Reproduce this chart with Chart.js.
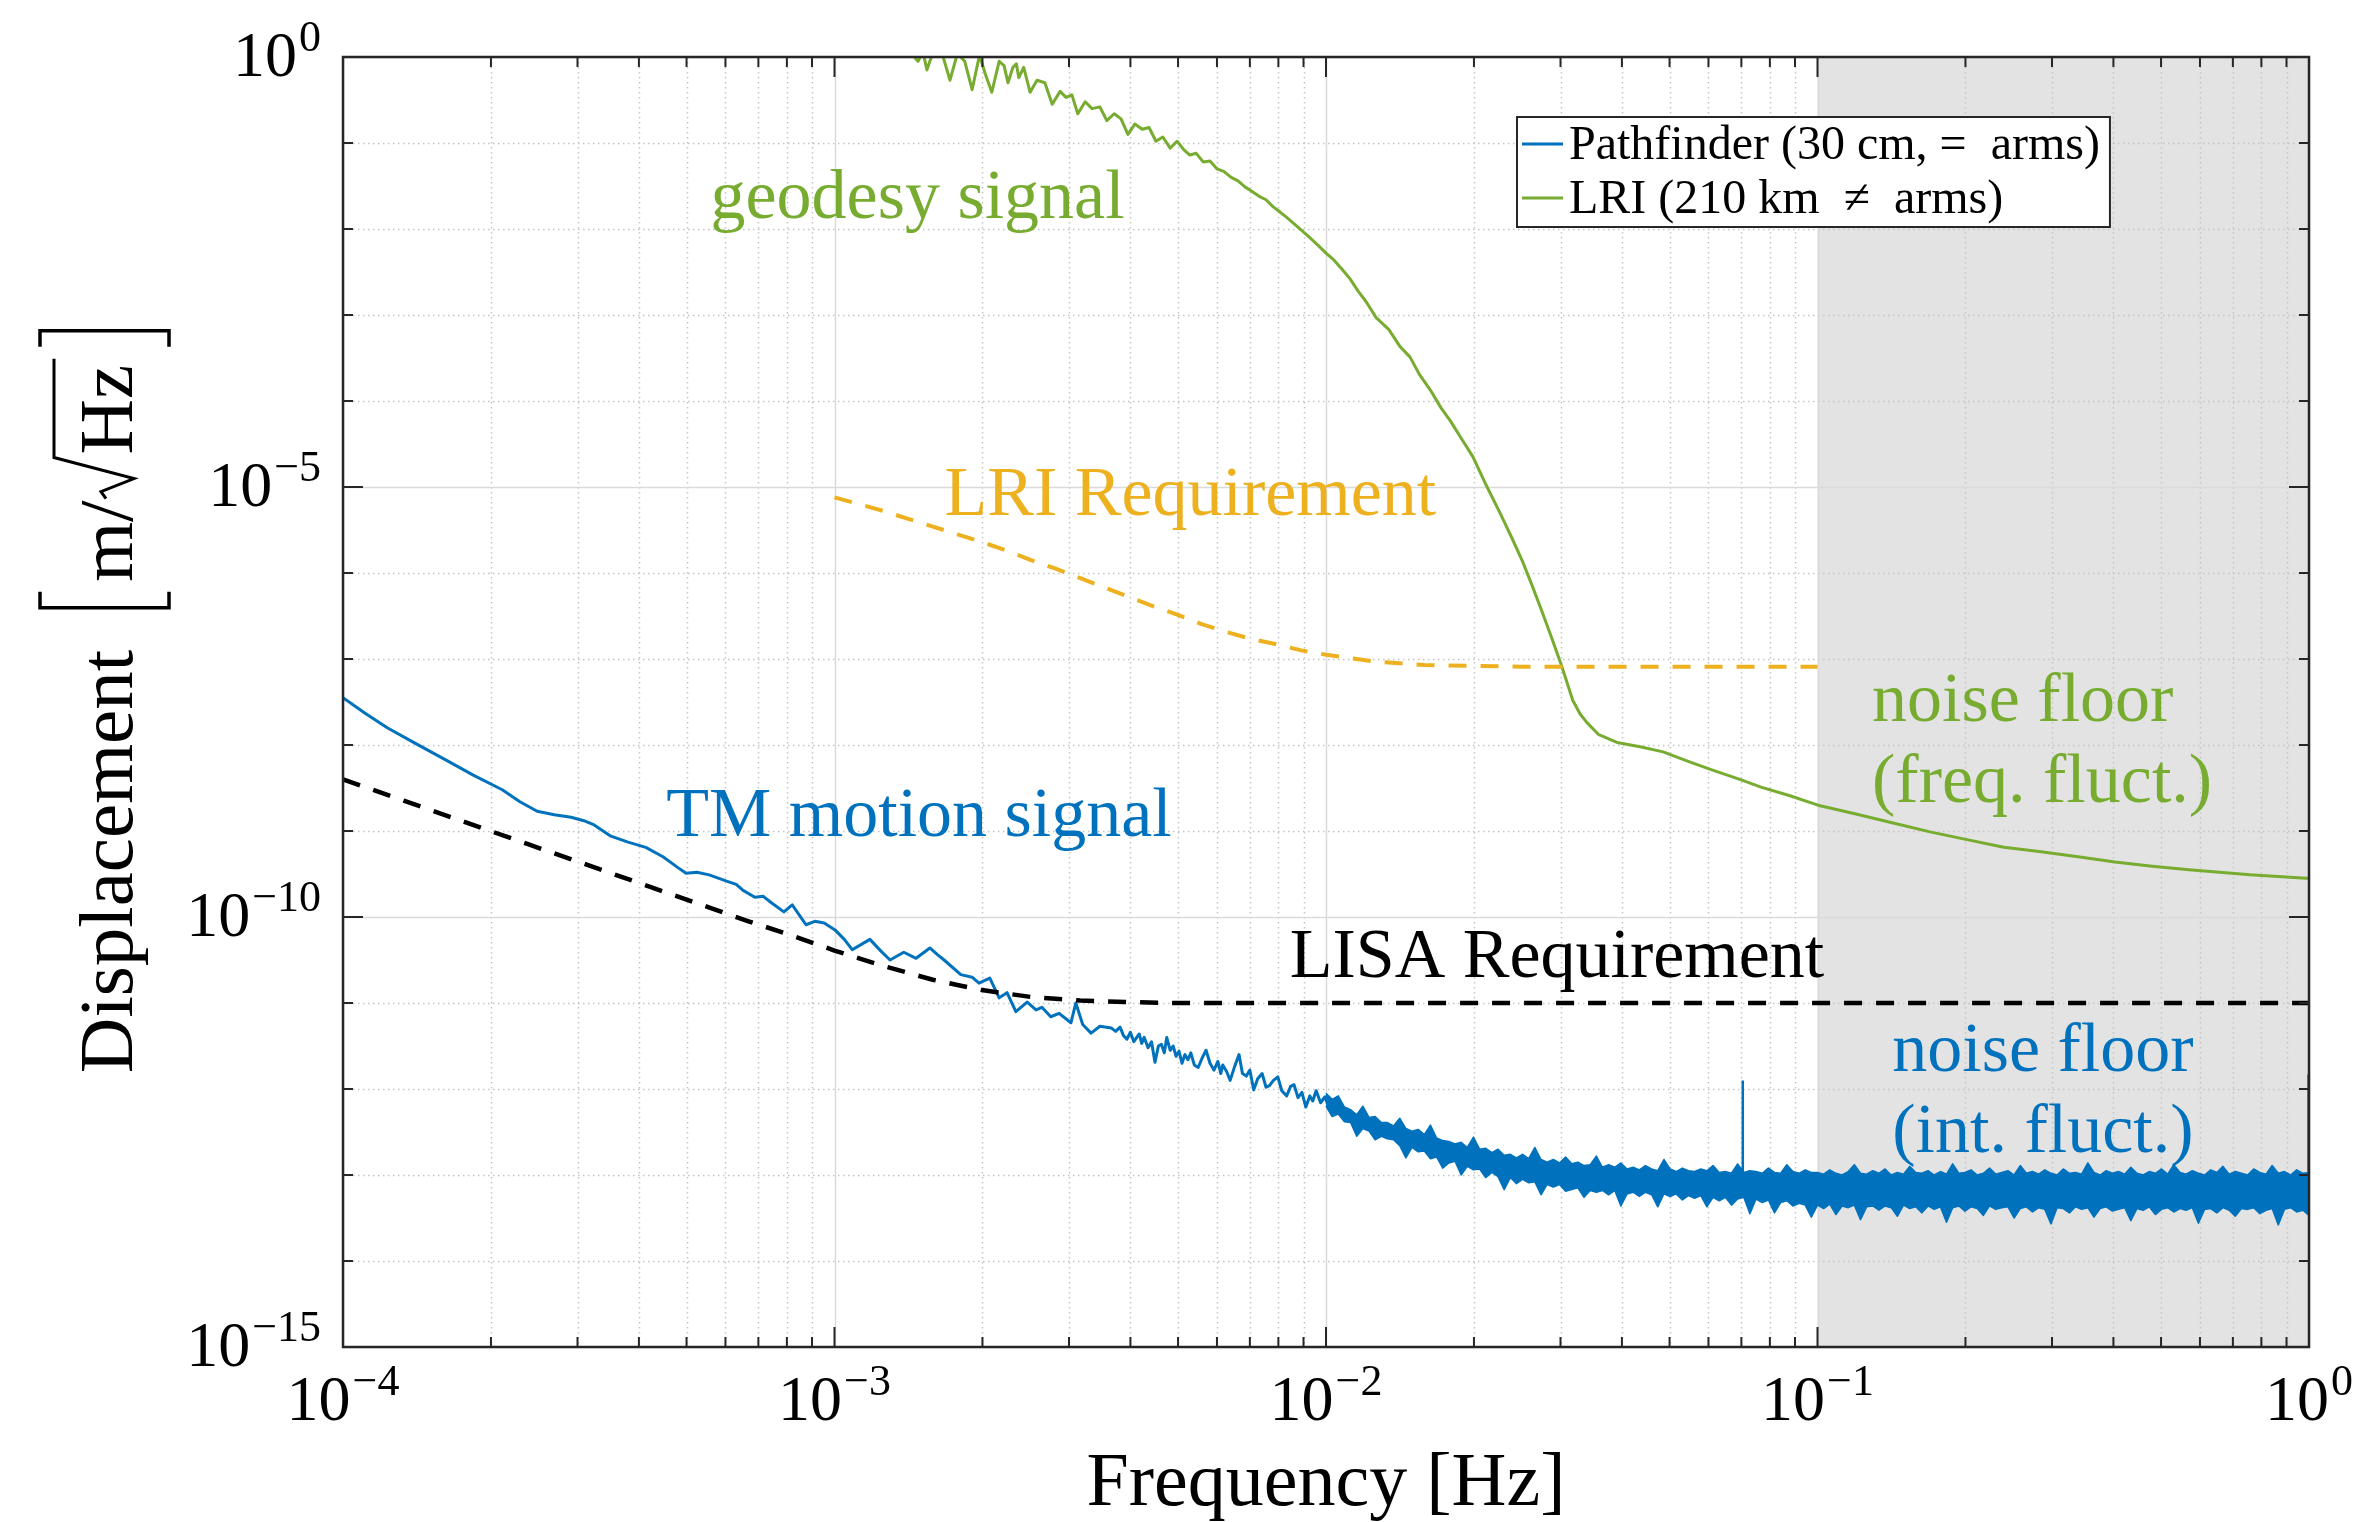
<!DOCTYPE html>
<html>
<head>
<meta charset="utf-8">
<title>Displacement spectra</title>
<script src="https://cdn.jsdelivr.net/npm/chart.js@4.4.1/dist/chart.umd.min.js"></script>
<style>
  html, body { margin: 0; padding: 0; background: #fff; }
  canvas { display: block; }
</style>
</head>
<body>
<canvas id="spectra" width="2357" height="1522"></canvas>
<script>
/* Displacement noise: LISA Pathfinder vs. GRACE-FO LRI.
   All curve data below is stored as log10(frequency / Hz) and log10(displacement / m/sqrt(Hz)). */

// ── Pathfinder test-mass signal (single trace up to ~10 mHz) ──
const pathfinderLogF = [
  -4.000, -3.955, -3.910, -3.850, -3.792, -3.735, -3.676, -3.640, -3.605, -3.570,
  -3.536, -3.510, -3.489, -3.455, -3.420, -3.384, -3.349, -3.320, -3.302, -3.280,
  -3.255, -3.221, -3.200, -3.186, -3.162, -3.145, -3.127, -3.103, -3.086, -3.058,
  -3.040, -3.021, -2.999, -2.980, -2.964, -2.928, -2.905, -2.887, -2.859, -2.834,
  -2.806, -2.790, -2.777, -2.743, -2.720, -2.706, -2.684, -2.665, -2.649, -2.631,
  -2.608, -2.590, -2.578, -2.560, -2.543, -2.519, -2.509, -2.495, -2.478, -2.460,
  -2.437, -2.428, -2.419, -2.412, -2.405, -2.398, -2.391, -2.385, -2.380, -2.375,
  -2.370, -2.362, -2.355, -2.348, -2.341, -2.335, -2.329, -2.324, -2.317, -2.311,
  -2.305, -2.299, -2.293, -2.287, -2.281, -2.275, -2.268, -2.260, -2.252, -2.244,
  -2.236, -2.228, -2.220, -2.214, -2.210, -2.202, -2.195, -2.186, -2.177, -2.170,
  -2.162, -2.155, -2.147, -2.139, -2.130, -2.122, -2.115, -2.107, -2.098, -2.090,
  -2.080, -2.072, -2.065, -2.057, -2.049, -2.041, -2.033, -2.027, -2.020, -2.011,
  -2.002, -1.994, -1.985, -1.978, -1.970
];
const pathfinderLogD = [
  -7.45, -7.63, -7.80, -7.99, -8.17, -8.35, -8.52, -8.66, -8.77, -8.81,
  -8.84, -8.88, -8.93, -9.06, -9.13, -9.19, -9.30, -9.42, -9.49, -9.48,
  -9.51, -9.58, -9.62, -9.69, -9.77, -9.76, -9.84, -9.94, -9.86, -10.09,
  -10.05, -10.07, -10.15, -10.26, -10.38, -10.26, -10.40, -10.50, -10.41, -10.48,
  -10.36, -10.44, -10.50, -10.67, -10.70, -10.77, -10.71, -10.94, -10.88, -11.10,
  -10.99, -11.08, -11.05, -11.16, -11.12, -11.23, -11.00, -11.25, -11.35, -11.27,
  -11.29, -11.33, -11.28, -11.38, -11.42, -11.34, -11.45, -11.40, -11.36, -11.47,
  -11.40, -11.52, -11.45, -11.69, -11.50, -11.48, -11.58, -11.40, -11.55, -11.50,
  -11.62, -11.56, -11.70, -11.60, -11.66, -11.58, -11.72, -11.75, -11.64, -11.55,
  -11.70, -11.78, -11.68, -11.82, -11.72, -11.80, -11.90, -11.74, -11.60, -11.82,
  -11.85, -11.78, -12.01, -11.88, -11.82, -11.98, -11.96, -11.90, -11.86, -12.02,
  -12.08, -11.97, -11.95, -12.10, -12.04, -12.21, -12.08, -12.14, -12.02, -12.16,
  -12.09, -12.22, -12.28, -12.20, -12.16
];

// ── Pathfinder noise floor: dense spectrum, kept as upper/lower envelope ──
const floorLogF = [
  -2.0000, -1.9875, -1.9750, -1.9625, -1.9500, -1.9375, -1.9250, -1.9125,
  -1.9000, -1.8875, -1.8750, -1.8625, -1.8500, -1.8375, -1.8250, -1.8125,
  -1.8000, -1.7875, -1.7750, -1.7625, -1.7500, -1.7375, -1.7250, -1.7125,
  -1.7000, -1.6875, -1.6750, -1.6625, -1.6500, -1.6375, -1.6250, -1.6125,
  -1.6000, -1.5875, -1.5750, -1.5625, -1.5500, -1.5375, -1.5250, -1.5125,
  -1.5000, -1.4875, -1.4750, -1.4625, -1.4500, -1.4375, -1.4250, -1.4125,
  -1.4000, -1.3875, -1.3750, -1.3625, -1.3500, -1.3375, -1.3250, -1.3125,
  -1.3000, -1.2875, -1.2750, -1.2625, -1.2500, -1.2375, -1.2250, -1.2125,
  -1.2000, -1.1875, -1.1750, -1.1625, -1.1500, -1.1375, -1.1250, -1.1125,
  -1.1000, -1.0875, -1.0750, -1.0625, -1.0500, -1.0375, -1.0250, -1.0125,
  -1.0000, -0.9875, -0.9750, -0.9625, -0.9500, -0.9375, -0.9250, -0.9125,
  -0.9000, -0.8875, -0.8750, -0.8625, -0.8500, -0.8375, -0.8250, -0.8125,
  -0.8000, -0.7875, -0.7750, -0.7625, -0.7500, -0.7375, -0.7250, -0.7125,
  -0.7000, -0.6875, -0.6750, -0.6625, -0.6500, -0.6375, -0.6250, -0.6125,
  -0.6000, -0.5875, -0.5750, -0.5625, -0.5500, -0.5375, -0.5250, -0.5125,
  -0.5000, -0.4875, -0.4750, -0.4625, -0.4500, -0.4375, -0.4250, -0.4125,
  -0.4000, -0.3875, -0.3750, -0.3625, -0.3500, -0.3375, -0.3250, -0.3125,
  -0.3000, -0.2875, -0.2750, -0.2625, -0.2500, -0.2375, -0.2250, -0.2125,
  -0.2000, -0.1875, -0.1750, -0.1625, -0.1500, -0.1375, -0.1250, -0.1125,
  -0.1000, -0.0875, -0.0750, -0.0625, -0.0500, -0.0375, -0.0250, -0.0125,
  0.0000
];
const floorUpperLogD = [
  -12.05, -12.12, -12.08, -12.21, -12.24, -12.30, -12.20, -12.33, -12.32, -12.39,
  -12.39, -12.43, -12.34, -12.46, -12.49, -12.47, -12.53, -12.42, -12.57, -12.60,
  -12.61, -12.64, -12.62, -12.68, -12.56, -12.70, -12.69, -12.74, -12.70, -12.77,
  -12.76, -12.80, -12.76, -12.81, -12.68, -12.82, -12.85, -12.82, -12.86, -12.79,
  -12.87, -12.85, -12.89, -12.88, -12.78, -12.91, -12.88, -12.91, -12.86, -12.93,
  -12.91, -12.94, -12.89, -12.93, -12.95, -12.82, -12.93, -12.96, -12.92, -12.95,
  -12.96, -12.93, -12.95, -12.89, -12.97, -12.96, -12.98, -12.87, -12.97, -12.95,
  -12.96, -12.98, -12.92, -12.97, -12.98, -12.88, -12.96, -12.98, -12.94, -12.97,
  -12.97, -12.99, -12.94, -12.98, -13.00, -12.96, -12.88, -12.98, -12.99, -12.95,
  -12.98, -12.93, -13.00, -12.97, -12.99, -12.90, -12.97, -12.98, -12.95, -13.00,
  -12.96, -12.99, -12.87, -12.98, -12.97, -12.94, -13.00, -12.98, -12.92, -12.99,
  -12.97, -12.95, -13.00, -12.89, -12.98, -12.96, -12.99, -12.94, -12.98, -13.00,
  -12.93, -12.98, -12.97, -12.99, -12.86, -12.97, -13.00, -12.95, -12.98, -12.96,
  -12.99, -12.91, -12.98, -13.00, -12.96, -12.98, -12.93, -12.99, -12.88, -12.97,
  -12.99, -12.95, -12.98, -13.00, -12.94, -12.97, -12.90, -12.99, -12.96, -12.98,
  -13.00, -12.93, -12.97, -12.99, -12.89, -12.98, -12.96, -13.00, -12.94, -12.98,
  -12.97
];
const floorLowerLogD = [
  -12.20, -12.32, -12.29, -12.38, -12.39, -12.55, -12.46, -12.49, -12.59, -12.55,
  -12.58, -12.59, -12.66, -12.80, -12.68, -12.73, -12.72, -12.81, -12.79, -12.92,
  -12.86, -12.84, -13.00, -12.90, -12.94, -12.93, -13.03, -12.97, -13.02, -13.17,
  -13.03, -13.10, -13.05, -13.09, -13.08, -13.23, -13.11, -13.14, -13.11, -13.19,
  -13.17, -13.15, -13.26, -13.18, -13.20, -13.18, -13.23, -13.18, -13.36, -13.22,
  -13.20, -13.25, -13.20, -13.23, -13.37, -13.22, -13.25, -13.22, -13.29, -13.24,
  -13.27, -13.24, -13.37, -13.26, -13.30, -13.26, -13.35, -13.28, -13.26, -13.45,
  -13.28, -13.32, -13.29, -13.44, -13.32, -13.30, -13.36, -13.33, -13.35, -13.49,
  -13.35, -13.39, -13.34, -13.46, -13.36, -13.38, -13.35, -13.52, -13.37, -13.36,
  -13.41, -13.36, -13.38, -13.48, -13.35, -13.39, -13.37, -13.44, -13.36, -13.40,
  -13.37, -13.55, -13.38, -13.36, -13.42, -13.37, -13.39, -13.47, -13.36, -13.40,
  -13.38, -13.37, -13.50, -13.39, -13.37, -13.43, -13.38, -13.40, -13.57, -13.38,
  -13.39, -13.44, -13.37, -13.40, -13.38, -13.49, -13.39, -13.37, -13.42, -13.40,
  -13.38, -13.53, -13.39, -13.41, -13.37, -13.46, -13.40, -13.38, -13.43, -13.39,
  -13.41, -13.38, -13.56, -13.40, -13.39, -13.44, -13.38, -13.41, -13.48, -13.39,
  -13.40, -13.38, -13.45, -13.41, -13.39, -13.58, -13.40, -13.38, -13.43, -13.41,
  -13.47
];
// narrow lines sticking out of the floor
const spikeLogF = [-1.152, -0.001];
const spikeBaseLogD = [-13.10, -13.20];
const spikeTopLogD = [-11.90, -11.83];

// ── LRI ranging signal ──
const lriLogF = [
  -3.000, -2.950, -2.900, -2.871, -2.850, -2.830, -2.820, -2.812, -2.800, -2.780,
  -2.765, -2.750, -2.735, -2.720, -2.705, -2.693, -2.680, -2.665, -2.655, -2.647,
  -2.637, -2.630, -2.625, -2.615, -2.602, -2.588, -2.572, -2.557, -2.541, -2.529,
  -2.517, -2.505, -2.490, -2.476, -2.460, -2.446, -2.431, -2.417, -2.403, -2.389,
  -2.374, -2.360, -2.346, -2.332, -2.317, -2.303, -2.289, -2.277, -2.264, -2.250,
  -2.236, -2.222, -2.208, -2.193, -2.179, -2.165, -2.151, -2.136, -2.122, -2.108,
  -2.094, -2.077, -2.063, -2.049, -2.033, -2.016, -2.000, -1.984, -1.967, -1.951,
  -1.935, -1.919, -1.898, -1.872, -1.849, -1.829, -1.809, -1.788, -1.766, -1.746,
  -1.723, -1.701, -1.674, -1.646, -1.622, -1.599, -1.579, -1.559, -1.538, -1.520,
  -1.498, -1.483, -1.469, -1.445, -1.408, -1.361, -1.314, -1.259, -1.215, -1.158,
  -1.115, -1.056, -0.999, -0.924, -0.844, -0.771, -0.696, -0.621, -0.545, -0.470,
  -0.395, -0.319, -0.244, -0.120, -0.006, 0.000
];
const lriLogD = [
  0.45, 0.30, 0.15, 0.03, 0.08, -0.05, 0.06, -0.15, 0.05, 0.02,
  -0.27, 0.04, -0.05, -0.38, 0.02, -0.20, -0.41, -0.05, -0.10, -0.30,
  -0.12, -0.08, -0.24, -0.12, -0.41, -0.27, -0.30, -0.55, -0.40, -0.47,
  -0.44, -0.66, -0.52, -0.60, -0.58, -0.74, -0.66, -0.72, -0.90, -0.78,
  -0.84, -0.82, -0.98, -0.93, -1.06, -0.98, -1.08, -1.14, -1.12, -1.22,
  -1.21, -1.30, -1.33, -1.40, -1.44, -1.51, -1.56, -1.62, -1.66, -1.74,
  -1.80, -1.88, -1.95, -2.02, -2.10, -2.19, -2.28, -2.36, -2.47, -2.58,
  -2.72, -2.84, -3.03, -3.17, -3.37, -3.49, -3.70, -3.87, -4.08, -4.24,
  -4.45, -4.65, -4.98, -5.30, -5.59, -5.88, -6.17, -6.47, -6.80, -7.09,
  -7.48, -7.64, -7.74, -7.88, -7.97, -8.02, -8.08, -8.20, -8.29, -8.40,
  -8.49, -8.59, -8.70, -8.80, -8.91, -9.01, -9.10, -9.19, -9.24, -9.30,
  -9.36, -9.41, -9.45, -9.51, -9.55, -9.55
];

// ── requirement curves ──
const lisaReqLogF = [
  -4.000, -3.875, -3.750, -3.625, -3.500, -3.375, -3.250, -3.175, -3.100, -3.000,
  -2.950, -2.900, -2.850, -2.800, -2.750, -2.700, -2.650, -2.600, -2.550, -2.500,
  -2.450, -2.400, -2.300, -2.200, 0.000
];
const lisaReqLogD = [
  -8.40, -8.65, -8.90, -9.15, -9.40, -9.65, -9.90, -10.05, -10.19, -10.39,
  -10.48, -10.57, -10.65, -10.73, -10.79, -10.85, -10.89, -10.93, -10.95, -10.97,
  -10.98, -10.99, -11.00, -11.00, -11.00
];
const lriReqLogF = [
  -3.000, -2.950, -2.900, -2.850, -2.800, -2.750, -2.700, -2.650, -2.600, -2.550,
  -2.500, -2.450, -2.400, -2.350, -2.300, -2.250, -2.200, -2.150, -2.100, -2.050,
  -2.000, -1.950, -1.900, -1.850, -1.800, -1.700, -1.600, -1.000
];
const lriReqLogD = [
  -5.12, -5.20, -5.28, -5.37, -5.46, -5.55, -5.64, -5.74, -5.85, -5.95,
  -6.06, -6.17, -6.28, -6.39, -6.49, -6.60, -6.69, -6.77, -6.83, -6.90,
  -6.95, -6.99, -7.03, -7.05, -7.07, -7.08, -7.09, -7.09
];

// ── axes ──
const xTickExps = [-4, -3, -2, -1, 0];
const yTickExps = [0, -5, -10, -15];
const shadedLogF = [-1, 0];           // band above 0.1 Hz

// ── in-plot labels, anchored in data coordinates ──
const noteTexts  = ['geodesy signal', 'LRI Requirement', 'noise floor', '(freq. fluct.)',
                    'TM motion signal', 'LISA Requirement', 'noise floor', '(int. fluct.)'];
const noteLogF   = [-2.831, -2.276, -0.889, -0.889, -2.828, -1.530, -0.848, -0.848];
const noteLogD   = [-1.872, -5.326, -7.721, -8.663, -9.058, -10.698, -11.791, -12.733];
const noteColors = ['green', 'orange', 'green', 'green', 'blue', 'black', 'blue', 'blue'];
const noteAlign  = ['center', 'center', 'left', 'left', 'center', 'center', 'left', 'left'];

const COLORS = { blue: '#0072bd', green: '#77ac30', orange: '#edb120', black: '#000000' };
const SERIF = '"Liberation Serif", "DejaVu Serif", serif';
const AXIS = '#262626';

const pts = (lf, ld) => lf.map((v, i) => ({ x: Math.pow(10, v), y: Math.pow(10, ld[i]) }));

const spikePts = [];
spikeLogF.forEach((lf, i) => {
  const f = Math.pow(10, lf);
  spikePts.push({ x: f, y: Math.pow(10, spikeBaseLogD[i]) },
                { x: f, y: Math.pow(10, spikeTopLogD[i]) },
                { x: f, y: null });
});

function line(ctx, x0, y0, x1, y1) {
  ctx.beginPath(); ctx.moveTo(x0, y0); ctx.lineTo(x1, y1); ctx.stroke();
}

// "10" with a raised exponent, like a LaTeX tick label
function drawPow(ctx, exp, x, y, align) {
  const sup = exp < 0 ? '\u2212' + (-exp) : String(exp);
  ctx.font = `64px ${SERIF}`;
  const wb = ctx.measureText('10').width;
  ctx.font = `44px ${SERIF}`;
  const ws = ctx.measureText(sup).width;
  const total = wb + 2 + ws;
  const x0 = align === 'right' ? x - total : x - total / 2;
  ctx.textAlign = 'left';
  ctx.textBaseline = 'alphabetic';
  ctx.font = `64px ${SERIF}`;
  ctx.fillText('10', x0, y);
  ctx.font = `44px ${SERIF}`;
  ctx.fillText(sup, x0 + wb + 2, y - 25);
}

function drawYTitle(ctx, a) {
  ctx.save();
  ctx.font = `77px ${SERIF}`;
  const wD = ctx.measureText('Displacement').width;
  const wm = ctx.measureText('m/').width;
  const wH = ctx.measureText('Hz').width;
  const gap = 42, br = 16, pad = 10, rad = 46;
  const total = wD + gap + br + pad + wm + rad + wH + 8 + pad + br;
  ctx.translate(132, (a.top + a.bottom) / 2 + total / 2);
  ctx.rotate(-Math.PI / 2);
  ctx.fillStyle = '#000';
  ctx.strokeStyle = '#000';
  ctx.textAlign = 'left';
  ctx.textBaseline = 'alphabetic';
  let u = 0;
  ctx.fillText('Displacement', u, 0);
  u += wD + gap;
  // left bracket
  ctx.lineWidth = 3.5;
  ctx.beginPath();
  ctx.moveTo(u + br, -92); ctx.lineTo(u, -92); ctx.lineTo(u, 37); ctx.lineTo(u + br, 37);
  ctx.stroke();
  u += br + pad;
  ctx.fillText('m/', u, 0);
  u += wm;
  // radical sign with overline across "Hz"
  ctx.lineWidth = 3;
  ctx.beginPath();
  ctx.moveTo(u + 2, -26); ctx.lineTo(u + 9, -31); ctx.lineTo(u + 22, 2);
  ctx.lineTo(u + 43, -78); ctx.lineTo(u + rad + wH + 6, -78);
  ctx.stroke();
  u += rad;
  ctx.fillText('Hz', u, 0);
  u += wH + 8 + pad;
  // right bracket
  ctx.lineWidth = 3.5;
  ctx.beginPath();
  ctx.moveTo(u, -92); ctx.lineTo(u + br, -92); ctx.lineTo(u + br, 37); ctx.lineTo(u, 37);
  ctx.stroke();
  ctx.restore();
}

const framePlugin = {
  id: 'frame',
  beforeDatasetsDraw(chart) {
    const { ctx, chartArea: a, scales: { x, y } } = chart;
    ctx.save();
    // shaded band
    const s0 = x.getPixelForValue(Math.pow(10, shadedLogF[0]));
    const s1 = x.getPixelForValue(Math.pow(10, shadedLogF[1]));
    ctx.fillStyle = '#e3e3e3';
    ctx.fillRect(s0, a.top, s1 - s0, a.bottom - a.top);

    // minor grid (dotted)
    ctx.strokeStyle = '#c4c4c4';
    ctx.lineWidth = 1.5;
    ctx.setLineDash([1.5, 3.5]);
    for (let e = xTickExps[0]; e < xTickExps[xTickExps.length - 1]; e++) {
      for (let m = 2; m <= 9; m++) {
        const px = Math.round(x.getPixelForValue(m * Math.pow(10, e))) + 0.5;
        line(ctx, px, a.top, px, a.bottom);
      }
    }
    for (let e = -15; e <= 0; e++) {
      if (yTickExps.includes(e)) continue;
      const py = Math.round(y.getPixelForValue(Math.pow(10, e))) + 0.5;
      line(ctx, a.left, py, a.right, py);
    }
    // major grid (solid)
    ctx.setLineDash([]);
    ctx.strokeStyle = '#dadada';
    xTickExps.forEach(e => {
      const px = Math.round(x.getPixelForValue(Math.pow(10, e))) + 0.5;
      line(ctx, px, a.top, px, a.bottom);
    });
    yTickExps.forEach(e => {
      const py = Math.round(y.getPixelForValue(Math.pow(10, e))) + 0.5;
      line(ctx, a.left, py, a.right, py);
    });
    ctx.restore();
  },
  afterDatasetsDraw(chart) {
    const { ctx, chartArea: a, scales: { x, y } } = chart;
    ctx.save();

    // annotations
    ctx.font = `70px ${SERIF}`;
    ctx.textBaseline = 'alphabetic';
    noteTexts.forEach((t, i) => {
      ctx.fillStyle = COLORS[noteColors[i]];
      ctx.textAlign = noteAlign[i];
      ctx.fillText(t, x.getPixelForValue(Math.pow(10, noteLogF[i])), y.getPixelForValue(Math.pow(10, noteLogD[i])));
    });

    // box and inward ticks on all four sides
    ctx.strokeStyle = AXIS;
    ctx.lineWidth = 2.5;
    ctx.strokeRect(a.left, a.top, a.right - a.left, a.bottom - a.top);
    ctx.lineWidth = 2;
    for (let e = xTickExps[0]; e <= xTickExps[xTickExps.length - 1]; e++) {
      const px = x.getPixelForValue(Math.pow(10, e));
      line(ctx, px, a.bottom, px, a.bottom - 20);
      line(ctx, px, a.top, px, a.top + 20);
      if (e === 0) break;
      for (let m = 2; m <= 9; m++) {
        const pm = x.getPixelForValue(m * Math.pow(10, e));
        line(ctx, pm, a.bottom, pm, a.bottom - 10);
        line(ctx, pm, a.top, pm, a.top + 10);
      }
    }
    for (let e = -15; e <= 0; e++) {
      const py = y.getPixelForValue(Math.pow(10, e));
      const len = yTickExps.includes(e) ? 20 : 10;
      line(ctx, a.left, py, a.left + len, py);
      line(ctx, a.right, py, a.right - len, py);
    }

    // legend
    const legendItems = chart.data.datasets.filter(d => d.inLegend);
    ctx.font = `48px ${SERIF}`;
    const tw = Math.max(...legendItems.map(d => ctx.measureText(d.label).width));
    const lx = a.left + 1174, ly = a.top + 60;
    const lw = 52 + tw + 10, lh = 110;
    ctx.fillStyle = '#fff';
    ctx.fillRect(lx, ly, lw, lh);
    ctx.strokeStyle = AXIS;
    ctx.lineWidth = 2;
    ctx.strokeRect(lx, ly, lw, lh);
    legendItems.forEach((d, i) => {
      const cy = ly + 27 + i * 54;
      ctx.strokeStyle = d.borderColor;
      ctx.lineWidth = 3;
      line(ctx, lx + 5, cy, lx + 46, cy);
      ctx.fillStyle = '#000';
      ctx.textAlign = 'left';
      ctx.textBaseline = 'middle';
      ctx.fillText(d.label, lx + 52, cy + 2);
    });
    ctx.restore();
  },
  afterDraw(chart) {
    const { ctx, chartArea: a, scales: { x, y } } = chart;
    ctx.save();
    ctx.fillStyle = '#000';
    xTickExps.forEach(e => drawPow(ctx, e, x.getPixelForValue(Math.pow(10, e)), a.bottom + 73, 'center'));
    yTickExps.forEach(e => drawPow(ctx, e, a.left - 22, y.getPixelForValue(Math.pow(10, e)) + 19, 'right'));

    ctx.font = `76px ${SERIF}`;
    ctx.textAlign = 'center';
    ctx.textBaseline = 'alphabetic';
    ctx.fillText('Frequency [Hz]', (a.left + a.right) / 2, a.bottom + 158);
    ctx.restore();
    drawYTitle(ctx, a);
  }
};

const base = { pointRadius: 0, pointHoverRadius: 0, tension: 0, fill: false, clip: 0, borderJoinStyle: 'round' };

new Chart(document.getElementById('spectra'), {
  type: 'line',
  data: {
    datasets: [
      { ...base, label: 'LISA Requirement', data: pts(lisaReqLogF, lisaReqLogD),
        borderColor: COLORS.black, borderWidth: 4.5, borderDash: [18, 14], order: 0 },
      { ...base, label: 'LRI Requirement', data: pts(lriReqLogF, lriReqLogD),
        borderColor: COLORS.orange, borderWidth: 4, borderDash: [18, 14], order: 1 },
      { ...base, label: 'Pathfinder (30 cm, =  arms)', inLegend: true,
        data: pts(pathfinderLogF, pathfinderLogD), borderColor: COLORS.blue, borderWidth: 3, order: 2 },
      { ...base, label: 'floor (low)', data: pts(floorLogF, floorLowerLogD),
        borderColor: COLORS.blue, borderWidth: 1.5, order: 3 },
      { ...base, label: 'floor (high)', data: pts(floorLogF, floorUpperLogD),
        borderColor: COLORS.blue, borderWidth: 1.5, backgroundColor: COLORS.blue, fill: '-1', order: 3 },
      { ...base, label: 'spikes', data: spikePts, borderColor: COLORS.blue, borderWidth: 2.5, order: 2 },
      { ...base, label: 'LRI (210 km  \u2260  arms)', inLegend: true,
        data: pts(lriLogF, lriLogD), borderColor: COLORS.green, borderWidth: 3, order: 4 }
    ]
  },
  options: {
    responsive: false,
    devicePixelRatio: 1,
    animation: false,
    events: [],
    layout: { padding: { left: 343, right: 48, top: 57, bottom: 175 } },
    scales: {
      x: { type: 'logarithmic', min: 1e-4, max: 1, display: false },
      y: { type: 'logarithmic', min: 1e-15, max: 1, display: false }
    },
    plugins: {
      legend: { display: false },
      tooltip: { enabled: false }
    }
  },
  plugins: [framePlugin]
});
</script>
</body>
</html>
